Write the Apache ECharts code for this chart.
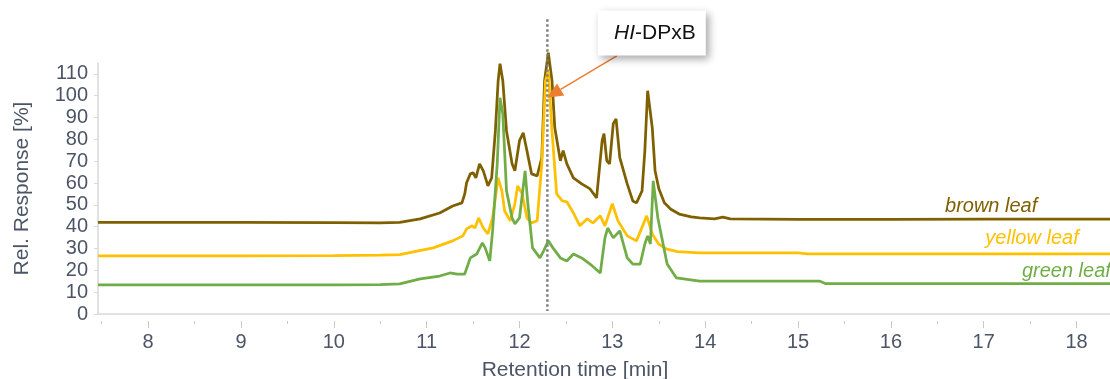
<!DOCTYPE html>
<html>
<head>
<meta charset="utf-8">
<title>Chromatogram</title>
<script src="https://cdn.jsdelivr.net/npm/echarts@6.0.0/dist/echarts.min.js"></script>
<style>html,body{margin:0;padding:0;background:#fff;}</style>
</head>
<body>
<div id="chart" style="width:1110px;height:379px;"></div>
<script type="text/javascript">
// [retention time (min), relative response (%)]
var brownLeaf = [[7.46,42.0],[9.0,42.0],[10.0,41.9],[10.5,41.8],[10.71,42.0],[10.93,43.6],[11.14,46.3],[11.28,49.5],[11.38,50.9],[11.41,55.0],[11.43,60.1],[11.47,64.2],[11.50,64.7],[11.53,62.4],[11.57,68.8],[11.61,65.6],[11.66,58.7],[11.70,62.4],[11.74,83.9],[11.77,106.9],[11.79,114.7],[11.82,106.9],[11.86,83.9],[11.92,68.8],[11.95,65.6],[12.00,79.4],[12.04,83.0],[12.08,74.8],[12.13,64.2],[12.19,63.3],[12.24,71.6],[12.27,106.9],[12.31,119.7],[12.35,106.9],[12.38,85.3],[12.44,70.2],[12.47,74.8],[12.51,68.8],[12.58,62.4],[12.67,59.6],[12.76,57.3],[12.83,53.2],[12.89,79.4],[12.91,82.6],[12.94,70.2],[12.97,68.8],[13.01,87.2],[13.04,89.4],[13.08,71.6],[13.16,59.6],[13.22,51.8],[13.26,50.9],[13.32,56.4],[13.35,74.8],[13.38,102.3],[13.43,85.3],[13.46,65.6],[13.50,57.5],[13.56,51.0],[13.63,48.0],[13.72,45.8],[13.85,44.5],[13.94,44.0],[14.10,43.6],[14.19,44.4],[14.27,43.6],[15.0,43.4],[16.0,43.4],[17.0,43.5],[18.36,43.5]];

var yellowLeaf = [[7.46,26.6],[9.0,26.6],[10.0,26.8],[10.5,27.0],[10.71,27.2],[11.07,30.3],[11.28,33.5],[11.39,35.8],[11.43,39.0],[11.49,40.4],[11.52,39.4],[11.56,44.0],[11.61,39.4],[11.66,36.7],[11.71,44.0],[11.77,62.4],[11.81,56.4],[11.84,47.2],[11.90,42.7],[11.95,50.5],[11.98,58.7],[12.03,55.0],[12.08,44.0],[12.13,41.7],[12.19,42.7],[12.24,68.8],[12.28,106.9],[12.31,111.5],[12.35,83.9],[12.40,55.0],[12.46,51.8],[12.51,51.4],[12.58,46.3],[12.65,40.4],[12.73,43.6],[12.79,41.7],[12.87,45.0],[12.92,40.4],[13.00,50.5],[13.06,42.7],[13.16,35.8],[13.26,33.5],[13.37,45.0],[13.43,36.7],[13.50,32.0],[13.58,29.8],[13.70,28.6],[13.94,28.0],[15.0,28.0],[15.1,27.6],[18.36,27.6]];

var greenLeaf = [[7.46,13.3],[9.0,13.3],[10.0,13.3],[10.5,13.5],[10.71,13.8],[10.93,16.1],[11.14,17.4],[11.25,18.8],[11.33,18.3],[11.41,18.3],[11.47,25.7],[11.54,27.5],[11.60,32.6],[11.63,30.3],[11.68,24.3],[11.71,38.1],[11.76,68.8],[11.79,99.1],[11.82,91.7],[11.86,56.4],[11.92,44.0],[11.95,41.3],[12.00,44.0],[12.06,65.6],[12.09,50.5],[12.14,30.3],[12.22,25.7],[12.26,28.9],[12.31,33.5],[12.36,30.3],[12.44,25.7],[12.51,24.3],[12.58,27.5],[12.67,25.7],[12.76,22.9],[12.87,18.8],[12.92,34.9],[12.95,39.4],[13.01,34.9],[13.08,38.1],[13.16,25.7],[13.22,22.9],[13.30,22.9],[13.35,32.1],[13.38,35.8],[13.41,32.1],[13.44,61.0],[13.49,44.0],[13.59,22.9],[13.69,16.5],[13.94,15.1],[15.0,15.1],[15.23,15.1],[15.3,13.9],[18.36,13.9]];

var seriesNames = ['brown leaf', 'yellow leaf', 'green leaf'];
var colors = ['#7F6000', '#FFC000', '#70AD47'];

var xLabels = [8, 9, 10, 11, 12, 13, 14, 15, 16, 17, 18];
var xHalfTicks = [7.5, 8.5, 9.5, 10.5, 11.5, 12.5, 13.5, 14.5, 15.5, 16.5, 17.5];
var yLabels = [0, 10, 20, 30, 40, 50, 60, 70, 80, 90, 100, 110];

var peakTime = 12.3;      // compound of interest
var peakName = 'HI';      // italic part
var peakSuffix = '-DPxB';

var font = "'Liberation Sans', Arial, sans-serif";
var textColor = '#4b5567';

var chart = echarts.init(document.getElementById('chart'));

function leafLabel(i, t, v) {
    return {
        symbol: 'rect', symbolSize: 1, silent: true,
        itemStyle: { color: 'rgba(0,0,0,0)' },
        label: {
            show: true, position: 'inside', formatter: seriesNames[i],
            color: colors[i], fontStyle: 'italic', fontSize: 20, fontFamily: font
        },
        data: [{ coord: [t, v] }]
    };
}

function lineSeries(i, data, labelPos) {
    return {
        name: seriesNames[i],
        type: 'line',
        data: data,
        showSymbol: false,
        clip: false,
        lineStyle: { color: colors[i], width: 2.75 },
        itemStyle: { color: colors[i] },
        markPoint: leafLabel(i, labelPos[0], labelPos[1])
    };
}

var xBase = { type: 'value', min: 7.46, max: 18.36, splitLine: { show: false } };

var option = {
    animation: false,
    grid: { left: 98, right: 0, top: 63, bottom: 65, outerBoundsMode: 'none' },
    xAxis: [
        Object.assign({}, xBase, {
            axisLine: { show: true, lineStyle: { color: '#d9d9d9', width: 1.5 } },
            axisTick: { show: false },
            axisLabel: { show: false },
            name: 'Retention time [min]',
            nameLocation: 'middle',
            nameGap: 46,
            nameTextStyle: { color: textColor, fontSize: 21, fontFamily: font, padding: [0, 58, 0, 0] }
        }),
        Object.assign({}, xBase, {
            position: 'bottom', offset: 7,
            axisLine: { show: false },
            axisTick: { show: true, length: 7, customValues: xLabels, lineStyle: { color: '#c8c8c8' } },
            axisLabel: { customValues: xLabels, color: textColor, fontSize: 20, fontFamily: font, margin: 11 }
        }),
        Object.assign({}, xBase, {
            position: 'bottom', offset: 7,
            axisLine: { show: false },
            axisTick: { show: true, length: 3, customValues: xHalfTicks, lineStyle: { color: '#c8c8c8' } },
            axisLabel: { show: false }
        })
    ],
    yAxis: {
        type: 'value', min: 0, max: 115,
        splitLine: { show: false },
        axisLine: { show: true, lineStyle: { color: '#d9d9d9', width: 1.5 } },
        axisTick: { show: true, length: 4, customValues: yLabels, lineStyle: { color: '#d9d9d9' } },
        axisLabel: { customValues: yLabels, color: textColor, fontSize: 20, fontFamily: font, margin: 10 },
        name: 'Rel. Response [%]',
        nameLocation: 'middle',
        nameGap: 65,
        nameTextStyle: { color: textColor, fontSize: 21, fontFamily: font }
    },
    series: [
        lineSeries(0, brownLeaf, [17.08, 49.5]),
        lineSeries(1, yellowLeaf, [17.52, 34.4]),
        lineSeries(2, greenLeaf, [17.89, 19.7])
    ]
};

chart.setOption(option);

// annotation: dotted marker line, callout box and arrow, placed through the axes
var px = function (t, v) { return chart.convertToPixel({ seriesIndex: 0 }, [t, v]); };
var lineTop = px(peakTime, 135), lineBottom = px(peakTime, 1.4);
var boxC = px(13.425, 128.7);
var a0 = px(13.048, 118.3), a1 = px(12.295, 99.1);
var dx = a1[0] - a0[0], dy = a1[1] - a0[1];
var len = Math.sqrt(dx * dx + dy * dy), ux = dx / len, uy = dy / len;
var headL = 16, headW = 7;
var base = [a1[0] - ux * headL, a1[1] - uy * headL];

chart.setOption({
    graphic: [
        {
            type: 'line', z: 100, silent: true,
            shape: { x1: lineTop[0], y1: lineTop[1], x2: lineBottom[0], y2: lineBottom[1] },
            style: { stroke: '#7f7f7f', lineWidth: 2.5, lineDash: [2.5, 2.5] }
        },
        {
            type: 'line', z: 101, silent: true,
            shape: { x1: a0[0], y1: a0[1], x2: base[0], y2: base[1] },
            style: { stroke: '#ED7D31', lineWidth: 1.5 }
        },
        {
            type: 'polygon', z: 101, silent: true,
            shape: { points: [a1, [base[0] - uy * headW, base[1] + ux * headW], [base[0] + uy * headW, base[1] - ux * headW]] },
            style: { fill: '#ED7D31' }
        },
        {
            type: 'rect', z: 102, silent: true,
            shape: { x: boxC[0] - 54, y: boxC[1] - 22.5, width: 108, height: 45 },
            style: { fill: '#fff', shadowBlur: 8, shadowOffsetX: 3, shadowOffsetY: 3, shadowColor: 'rgba(0,0,0,0.35)' }
        },
        {
            type: 'text', z: 103, silent: true,
            x: boxC[0] + 3, y: boxC[1],
            style: {
                text: '{i|' + peakName + '}{n|' + peakSuffix + '}',
                align: 'center', verticalAlign: 'middle',
                rich: {
                    i: { fontStyle: 'italic', fontSize: 21, fontFamily: font, fill: '#111' },
                    n: { fontSize: 21, fontFamily: font, fill: '#111' }
                }
            }
        }
    ]
});
</script>
</body>
</html>
